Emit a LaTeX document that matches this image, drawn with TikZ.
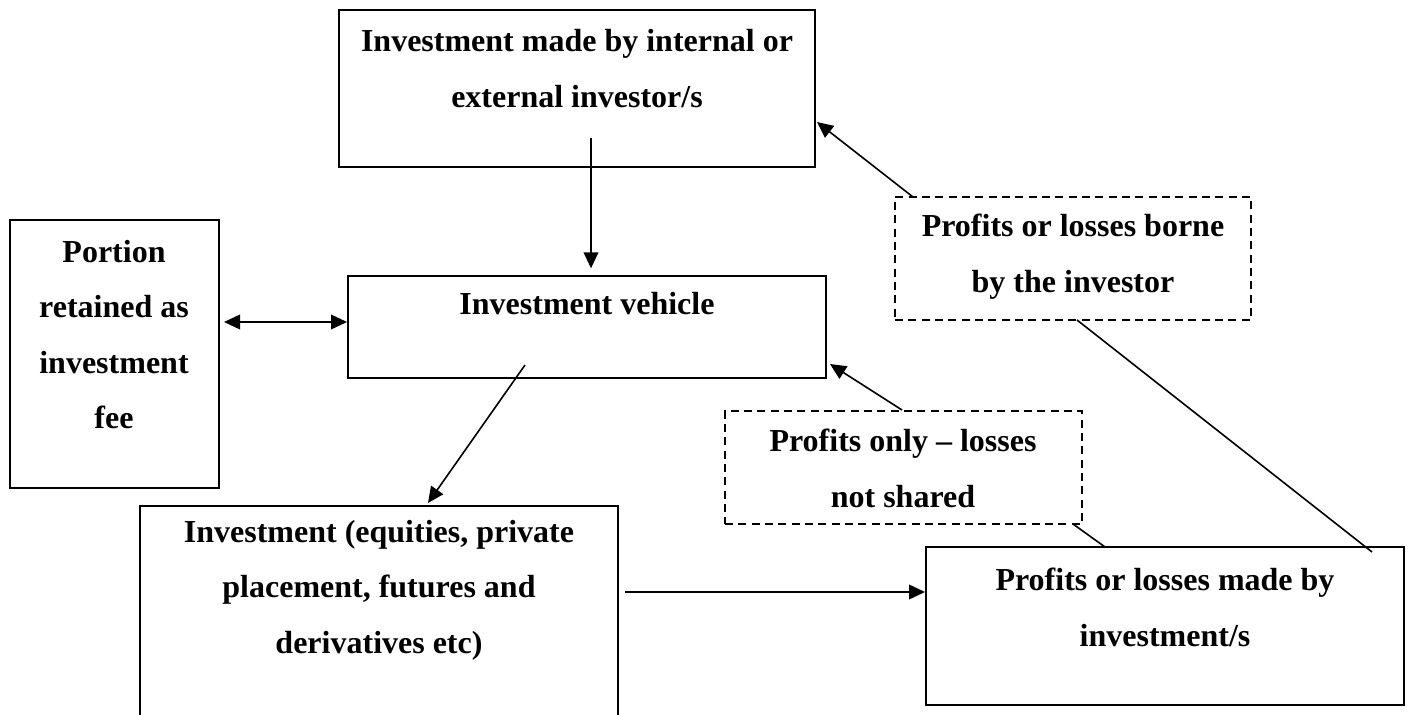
\documentclass[tikz,border=0pt]{standalone}
\usepackage{fontspec}
\setmainfont{Liberation Serif}
\usetikzlibrary{arrows.meta,fit}

\tikzset{
  box/.style={draw, line width=0.75pt, inner sep=0pt},
  dashbox/.style={box, dash pattern=on 3pt off 2pt},
  txt/.style={align=center, inner sep=0pt, font=\bfseries\fontsize{12}{20.8}\selectfont},
}

\begin{document}
\begin{tikzpicture}[>={Triangle[length=6pt,width=5.5pt]}, x=0.375pt, y=-0.375pt, line width=0.6pt]
  \useasboundingbox (0,0) rectangle (1410,715);
  \clip (0,0) rectangle (1410,715);
  %
  % Boxes
  \node[box, fit={(339,10) (815,167)}] (invest) {};
  \node[box, fit={(10,220) (219,488)}] (portion) {};
  \node[box, fit={(348,276) (826,378)}] (vehicle) {};
  \node[dashbox, fit={(895,197) (1251,320)}] (borne) {};
  \node[dashbox, fit={(725,411) (1082,524)}] (share) {};
  \node[box, fit={(140,506) (618,740)}] (investment) {};
  \node[box, fit={(926,547) (1404,705)}] (made) {};
  %
  % Texts
  \node[txt] (invest-t) at (577,68.5) {Investment made by internal or\\external investor/s};
  \node[txt] (portion-t) at (114,334.5) {Portion\\retained as\\investment\\fee};
  \node[txt] (vehicle-t) at (587,304) {Investment vehicle};
  \node[txt] (borne-t) at (1073,256.5) {Profits or losses borne\\by the investor};
  \node[txt] (share-t) at (903,468.5) {Profits only -- losses\\not shared};
  \node[txt] (investment-t) at (379,590) {Investment (equities, private\\placement, futures and\\derivatives etc)};
  \node[txt] (made-t) at (1165,607.5) {Profits or losses made by\\investment/s};
  %
  % Connector ends
  \coordinate (invest-out) at (591,138);
  \coordinate (fee-level) at (0,322);
  \coordinate (vehicle-out) at (525,365);
  \coordinate (investment-in) at (428,503);
  \coordinate (investment-out) at (625,592);
  \coordinate (share-out) at (1073,524);
  \coordinate (made-in) at (1105,547);
  \coordinate (share-up) at (902,411);
  \coordinate (vehicle-in) at (830,364);
  \coordinate (made-up) at (1372,552);
  \coordinate (borne-down) at (1077,320);
  \coordinate (borne-up) at (913,197);
  \coordinate (invest-in) at (817,122);
  %
  % Connectors
  \draw[->, shorten >=2.5pt] (invest-out) -- (invest-out |- vehicle.north);
  \draw[<->, shorten <=1.5pt] (portion.east |- fee-level) -- (vehicle.west |- fee-level);
  \draw[->] (vehicle-out) -- (investment-in);
  \draw[->] (investment-out) -- (investment-out -| made.west);
  \draw (share-out) -- (made-in);
  \draw[->] (share.north -| share-up) -- (vehicle-in);
  \draw (made-up) -- (borne-down);
  \draw[->] (borne-up) -- (invest-in);
  %
\end{tikzpicture}
\end{document}
